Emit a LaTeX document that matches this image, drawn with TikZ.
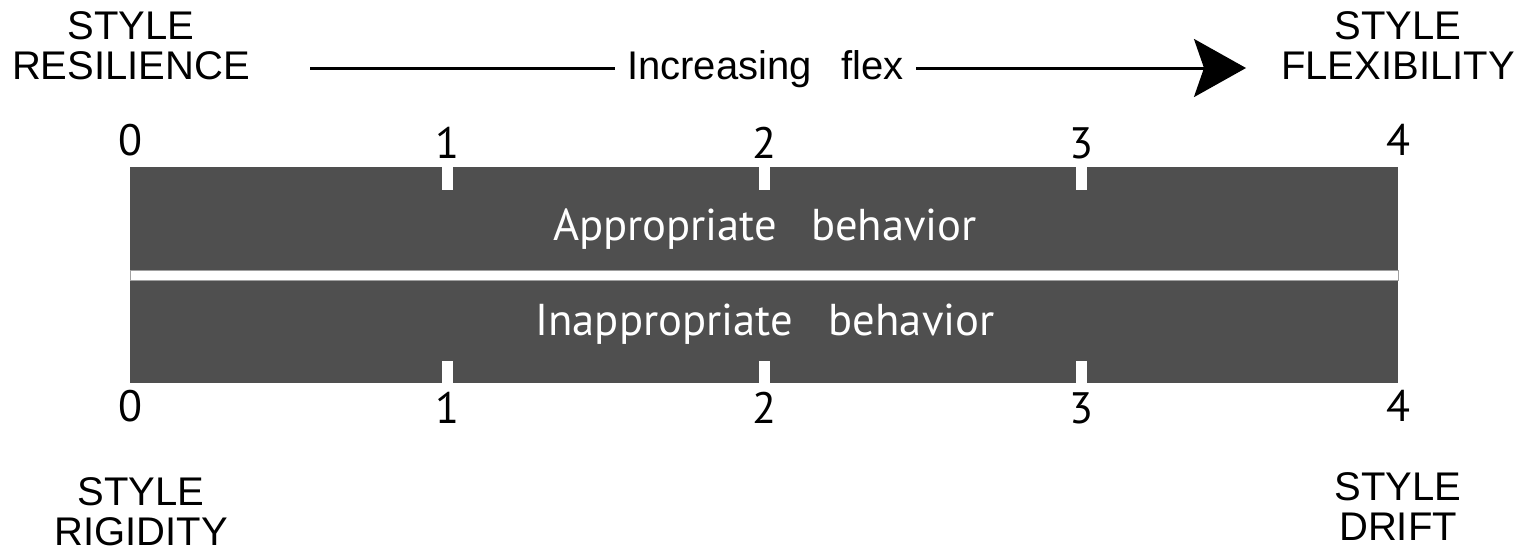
\documentclass[tikz,border=0pt]{standalone}
\usepackage{fontspec}
\setmainfont{Liberation Sans}
\newfontfamily\barfont{PT Sans}
\usetikzlibrary{arrows.meta}
\definecolor{barcol}{RGB}{79,79,79}
\definecolor{stripline}{RGB}{160,160,160}
\tikzset{
  lbl/.style={inner sep=0pt, align=center, font=\fontsize{20}{20}\selectfont},
  num/.style={inner sep=0pt, anchor=base, font=\barfont\fontsize{22}{22}\selectfont},
  bartext/.style={inner sep=0pt, anchor=base, text=white, font=\barfont\fontsize{22.3}{22.3}\selectfont},
  flexline/.style={line width=1.5pt},
}
\begin{document}
\begin{tikzpicture}[x=0.5pt,y=-0.5pt]
\useasboundingbox (0,0) rectangle (1534,552);
% bar
\fill[barcol] (130,167) rectangle (1398,383);
\filldraw[fill=white, draw=stripline, line width=0.4pt] (130,270.5) rectangle (1398,280.5);
% ticks
\foreach \k in {1,2,3}{
  \fill[white] ({130+317*\k-5.5},167) rectangle ({130+317*\k+5.5},190);
  \fill[white] ({130+317*\k-5.5},361) rectangle ({130+317*\k+5.5},383);
}
% numbers
\node[num] (t0) at (130,155) {0};
\node[num] (t1) at (447,158) {1};
\node[num] (t2) at (764,158) {2};
\node[num] (t3) at (1081,158) {3};
\node[num] (t4) at (1398,155) {4};
\node[num] (b0) at (130,421) {0};
\node[num] (b1) at (447,423) {1};
\node[num] (b2) at (764,423) {2};
\node[num] (b3) at (1081,423) {3};
\node[num] (b4) at (1398,421) {4};
% bar texts
\node[bartext] (app) at (765,240) {Appropriate\hspace{17pt}behavior};
\node[bartext] (inapp) at (765,335) {Inappropriate\hspace{18pt}behavior};
% corner labels
\node[lbl] (res) at (131,46) {STYLE\\RESILIENCE};
\node[lbl] (flx) at (1398,45.5) {STYLE\\FLEXIBILITY};
\node[lbl] (rig) at (141,511.5) {STYLE\\RIGIDITY};
\node[lbl] (dri) at (1398,507) {STYLE\\DRIFT};
% increasing flex arrow
\node[inner sep=0pt, inner xsep=6pt, anchor=base, font=\fontsize{20}{20}\selectfont] (inc) at (765.5,79) {Increasing\hspace{15pt}flex};
\coordinate (ls) at (310,68);
\coordinate (le) at (1246,68);
\draw[flexline] (ls) -- (ls -| inc.west);
\draw[flexline, -{Stealth[length=26pt, width=29pt, inset=5pt]}] (le -| inc.east) -- (le);
\end{tikzpicture}
\end{document}
